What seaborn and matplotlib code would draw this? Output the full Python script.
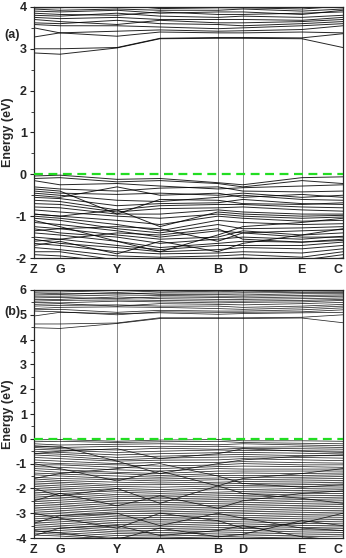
import numpy as np
import pandas as pd
import seaborn as sns
import matplotlib.pyplot as plt

# high-symmetry points along the path
kpoints = ['Z', 'G', 'Y', 'A', 'B', 'D', 'E', 'C']
kpos = [0.0, 0.084, 0.269, 0.408, 0.595, 0.676, 0.867, 1.0]

# panel (a): band energies (eV) at Z, G, Y, A, B, D, E, C
a_cond = [
    [2.90, 2.87, 3.02, 3.24, 3.25, 3.25, 3.24, 3.03],
    [3.00, 3.00, 3.03, 3.25, 3.27, 3.27, 3.26, 3.36],
    [3.28, 3.38, 3.30, 3.40, 3.38, 3.38, 3.40, 3.38],
    [3.50, 3.38, 3.42, 3.45, 3.42, 3.43, 3.46, 3.55],
    [3.58, 3.55, 3.55, 3.52, 3.48, 3.50, 3.55, 3.60],
    [3.62, 3.60, 3.68, 3.60, 3.58, 3.55, 3.60, 3.65],
    [3.70, 3.65, 3.58, 3.68, 3.62, 3.62, 3.65, 3.70],
    [3.75, 3.72, 3.75, 3.70, 3.70, 3.70, 3.68, 3.75],
    [3.80, 3.78, 3.85, 3.78, 3.75, 3.78, 3.75, 3.80],
    [3.85, 3.82, 3.80, 3.88, 3.82, 3.82, 3.85, 3.88],
    [3.90, 3.88, 3.92, 3.85, 3.88, 3.88, 3.82, 3.92],
    [3.95, 3.92, 3.95, 3.92, 3.92, 3.95, 3.90, 3.95],
    [3.98, 3.98, 4.05, 3.96, 3.98, 3.98, 3.95, 4.02],
]
a_val = [
    [-0.04, -0.02, -0.12, -0.10, -0.20, -0.25, -0.08, -0.06],
    [-0.10, -0.08, -0.18, -0.15, -0.22, -0.30, -0.15, -0.22],
    [-0.15, -0.25, -0.22, -0.28, -0.35, -0.32, -0.28, -0.25],
    [-0.30, -0.35, -0.40, -0.33, -0.30, -0.40, -0.42, -0.40],
    [-0.40, -0.45, -0.48, -0.45, -0.50, -0.45, -0.55, -0.50],
    [-0.45, -0.50, -0.62, -0.65, -0.55, -0.50, -0.60, -0.62],
    [-0.55, -0.58, -0.75, -0.70, -0.68, -0.60, -0.70, -0.72],
    [-0.62, -0.65, -0.85, -0.75, -0.72, -0.72, -0.78, -0.80],
    [-0.70, -0.72, -0.90, -0.82, -0.80, -0.78, -0.85, -0.88],
    [-0.78, -0.80, -0.95, -0.95, -0.85, -0.90, -0.95, -0.95],
    [-0.85, -0.90, -1.00, -1.05, -0.95, -1.00, -1.05, -1.02],
    [-0.95, -1.00, -1.10, -1.20, -1.00, -1.05, -1.12, -1.10],
    [-1.00, -1.05, -1.20, -1.35, -1.10, -1.15, -1.20, -1.18],
    [-1.05, -1.10, -1.30, -1.40, -1.20, -1.30, -1.28, -1.25],
    [-1.15, -1.20, -1.35, -1.50, -1.35, -1.40, -1.35, -1.32],
    [-1.25, -1.30, -1.45, -1.55, -1.50, -1.35, -1.45, -1.40],
    [-1.30, -1.40, -1.50, -1.65, -1.55, -1.50, -1.55, -1.48],
    [-1.40, -1.45, -1.60, -1.75, -1.65, -1.60, -1.62, -1.55],
    [-1.50, -1.55, -1.70, -1.80, -1.70, -1.70, -1.70, -1.62],
    [-1.55, -1.65, -1.75, -1.85, -1.80, -1.75, -1.78, -1.70],
    [-1.65, -1.70, -1.85, -1.90, -1.88, -1.85, -1.88, -1.78],
    [-1.75, -1.80, -1.95, -1.98, -1.95, -1.92, -1.98, -1.85],
    [-1.85, -1.85, -2.05, -2.05, -2.02, -2.00, -2.05, -1.92],
    [-1.92, -1.95, -2.10, -2.10, -2.10, -2.10, -2.10, -2.00],
    [-0.35, -0.40, -0.95, -0.60, -0.62, -0.70, -0.72, -0.68],
    [-0.50, -0.55, -0.30, -0.50, -0.45, -0.55, -0.48, -0.55],
    [-0.95, -1.00, -0.85, -1.25, -0.90, -0.95, -1.00, -0.98],
    [-1.35, -1.30, -1.25, -1.30, -1.60, -1.40, -1.50, -1.50],
    [-1.60, -1.55, -1.40, -1.45, -1.30, -1.55, -1.62, -1.58],
    [-1.10, -1.25, -1.60, -1.85, -1.45, -1.25, -1.15, -1.05],
    [-1.70, -1.60, -1.90, -1.60, -1.85, -1.65, -1.45, -1.30],
]

# panel (b)
b_cond = [
    [4.48, 4.45, 4.65, 4.85, 4.85, 4.85, 4.87, 4.68],
    [4.63, 4.63, 4.67, 4.88, 4.88, 4.88, 4.90, 5.00],
    [4.95, 5.10, 5.05, 5.08, 5.02, 5.05, 5.08, 5.10],
    [5.15, 5.12, 5.00, 5.12, 5.10, 5.10, 5.12, 5.20],
    [5.20, 5.22, 5.10, 5.18, 5.15, 5.15, 5.20, 5.28],
    [5.25, 5.30, 5.32, 5.30, 5.25, 5.22, 5.28, 5.35],
    [5.35, 5.38, 5.40, 5.35, 5.35, 5.30, 5.35, 5.42],
    [5.42, 5.45, 5.35, 5.45, 5.42, 5.40, 5.45, 5.50],
    [5.50, 5.48, 5.55, 5.52, 5.48, 5.50, 5.52, 5.58],
    [5.55, 5.58, 5.60, 5.58, 5.55, 5.55, 5.58, 5.62],
    [5.62, 5.62, 5.72, 5.65, 5.62, 5.62, 5.65, 5.68],
    [5.68, 5.70, 5.65, 5.72, 5.70, 5.68, 5.72, 5.75],
    [5.75, 5.75, 5.80, 5.78, 5.75, 5.75, 5.78, 5.80],
    [5.80, 5.82, 5.90, 5.82, 5.82, 5.80, 5.85, 5.85],
    [5.88, 5.85, 5.85, 5.88, 5.88, 5.88, 5.90, 5.90],
    [5.92, 5.92, 5.98, 5.92, 5.95, 5.92, 5.96, 5.95],
    [5.98, 5.98, 6.05, 5.98, 6.02, 6.00, 6.05, 6.02],
]
b_val = [
    [-0.04, -0.03, -0.10, -0.05, -0.03, -0.08, -0.08, -0.10],
    [-0.12, -0.10, -0.15, -0.12, -0.10, -0.15, -0.18, -0.20],
    [-0.20, -0.25, -0.22, -0.20, -0.24, -0.20, -0.25, -0.28],
    [-0.28, -0.35, -0.30, -0.32, -0.30, -0.34, -0.32, -0.35],
    [-0.35, -0.40, -0.45, -0.38, -0.42, -0.38, -0.40, -0.42],
    [-0.42, -0.46, -0.55, -0.50, -0.45, -0.47, -0.48, -0.50],
    [-0.50, -0.55, -0.65, -0.60, -0.56, -0.55, -0.58, -0.61],
    [-0.58, -0.62, -0.75, -0.70, -0.65, -0.63, -0.68, -0.68],
    [-0.65, -0.70, -0.85, -0.78, -0.74, -0.72, -0.75, -0.78],
    [-0.75, -0.80, -0.90, -0.86, -0.85, -0.80, -0.85, -0.88],
    [-0.85, -0.90, -1.00, -0.95, -0.95, -0.92, -0.96, -0.98],
    [-0.95, -1.00, -1.05, -1.10, -1.05, -1.00, -1.05, -1.05],
    [-1.05, -1.05, -1.15, -1.20, -1.12, -1.10, -1.12, -1.15],
    [-1.12, -1.15, -1.25, -1.30, -1.20, -1.22, -1.22, -1.22],
    [-1.20, -1.25, -1.35, -1.40, -1.30, -1.30, -1.30, -1.30],
    [-1.28, -1.35, -1.40, -1.48, -1.40, -1.38, -1.40, -1.38],
    [-1.38, -1.42, -1.50, -1.55, -1.48, -1.48, -1.48, -1.45],
    [-1.45, -1.50, -1.60, -1.62, -1.58, -1.55, -1.55, -1.52],
    [-1.55, -1.60, -1.65, -1.70, -1.65, -1.65, -1.62, -1.60],
    [-1.62, -1.68, -1.75, -1.78, -1.75, -1.72, -1.70, -1.68],
    [-1.70, -1.75, -1.85, -1.85, -1.82, -1.80, -1.78, -1.75],
    [-1.78, -1.82, -1.92, -1.95, -1.90, -1.88, -1.85, -1.82],
    [-1.85, -1.90, -2.00, -2.05, -1.98, -1.95, -1.92, -1.90],
    [-1.92, -1.98, -2.08, -2.12, -2.05, -2.05, -2.00, -1.98],
    [-2.00, -2.05, -2.15, -2.20, -2.15, -2.12, -2.08, -2.05],
    [-2.08, -2.12, -2.25, -2.28, -2.22, -2.20, -2.15, -2.12],
    [-2.15, -2.20, -2.32, -2.35, -2.30, -2.28, -2.22, -2.20],
    [-2.22, -2.28, -2.40, -2.42, -2.38, -2.35, -2.30, -2.28],
    [-2.30, -2.35, -2.48, -2.50, -2.45, -2.42, -2.38, -2.35],
    [-2.38, -2.42, -2.55, -2.58, -2.52, -2.50, -2.45, -2.42],
    [-2.45, -2.50, -2.62, -2.65, -2.60, -2.58, -2.52, -2.50],
    [-2.52, -2.58, -2.70, -2.72, -2.68, -2.65, -2.60, -2.58],
    [-2.60, -2.65, -2.78, -2.80, -2.75, -2.72, -2.68, -2.65],
    [-2.68, -2.72, -2.85, -2.88, -2.82, -2.80, -2.75, -2.72],
    [-2.75, -2.80, -2.92, -2.95, -2.90, -2.88, -2.82, -2.80],
    [-2.82, -2.88, -3.00, -3.02, -2.98, -2.95, -2.90, -2.88],
    [-2.90, -2.95, -3.08, -3.10, -3.05, -3.02, -2.98, -2.95],
    [-2.98, -3.02, -3.15, -3.18, -3.12, -3.10, -3.05, -3.02],
    [-3.05, -3.10, -3.22, -3.25, -3.20, -3.18, -3.12, -3.10],
    [-3.12, -3.18, -3.30, -3.32, -3.28, -3.25, -3.20, -3.18],
    [-3.20, -3.25, -3.38, -3.40, -3.35, -3.32, -3.28, -3.25],
    [-3.28, -3.32, -3.45, -3.48, -3.42, -3.40, -3.35, -3.32],
    [-3.35, -3.40, -3.52, -3.55, -3.50, -3.48, -3.42, -3.40],
    [-3.42, -3.48, -3.60, -3.62, -3.58, -3.55, -3.50, -3.48],
    [-3.50, -3.55, -3.68, -3.70, -3.65, -3.62, -3.58, -3.55],
    [-3.58, -3.62, -3.75, -3.78, -3.72, -3.70, -3.65, -3.62],
    [-3.65, -3.70, -3.82, -3.85, -3.80, -3.78, -3.72, -3.70],
    [-3.72, -3.78, -3.90, -3.92, -3.88, -3.85, -3.80, -3.78],
    [-3.80, -3.85, -3.98, -4.00, -3.95, -3.92, -3.88, -3.85],
    [-3.88, -3.92, -4.05, -4.08, -4.02, -4.00, -3.95, -3.92],
    [-0.30, -0.30, -0.90, -1.40, -1.00, -0.85, -0.70, -0.65],
    [-0.60, -0.50, -0.40, -0.80, -0.60, -0.40, -0.50, -0.55],
    [-1.00, -1.20, -1.70, -1.30, -1.90, -1.60, -1.40, -1.20],
    [-1.60, -1.40, -1.20, -1.00, -1.50, -1.80, -1.95, -1.85],
    [-2.00, -2.30, -2.00, -2.60, -1.90, -2.20, -2.40, -2.60],
    [-2.50, -2.20, -2.70, -2.30, -2.80, -2.50, -2.20, -2.10],
    [-3.00, -3.20, -3.60, -3.00, -3.30, -3.60, -3.40, -3.00],
    [-3.40, -3.10, -3.00, -3.50, -3.00, -3.20, -3.60, -3.70],
    [-3.70, -3.80, -4.05, -3.60, -3.95, -3.85, -3.30, -3.50],
    [-3.90, -3.60, -3.50, -3.90, -3.70, -3.50, -3.95, -4.10],
]


def to_frame(bands):
    rows = []
    for i, b in enumerate(bands):
        for k, e in zip(kpos, b):
            rows.append({'band': i, 'k': k, 'E': e})
    return pd.DataFrame(rows)


sns.set_style('ticks')
plt.rcParams['font.family'] = ['Liberation Sans', 'DejaVu Sans']
plt.rcParams['font.weight'] = 'bold'
plt.rcParams['axes.unicode_minus'] = False
fs = 9

fig = plt.figure(figsize=(3.46, 5.58), dpi=100)
ax_a = fig.add_axes([0.098, 0.5376, 0.893, 0.450])
ax_b = fig.add_axes([0.098, 0.0358, 0.893, 0.4445])

panels = [
    (ax_a, a_cond + a_val, (-2, 4), '(a)', 0.938, 0.7),
    (ax_b, b_cond + b_val, (-4, 6), '(b)', 0.441, 0.55),
]

for ax, bands, ylim, tag, ty, lw in panels:
    df = to_frame(bands)
    sns.lineplot(data=df, x='k', y='E', units='band', estimator=None,
                 color='black', lw=lw, alpha=0.85, ax=ax, legend=False)
    for x in kpos[1:-1]:
        ax.axvline(x, color='#777777', lw=0.6, zorder=0)
    ax.axhline(0, color='#22dd22', lw=1.6, dashes=(4, 2.5), zorder=5)
    ax.set_xlim(0, 1)
    ax.set_ylim(*ylim)
    ax.set_xticks(kpos)
    ax.set_xticklabels(kpoints, fontsize=fs, fontweight='bold')
    ax.get_xticklabels()[-1].set_horizontalalignment('right')
    ax.tick_params(axis='x', length=0, pad=4)
    ax.set_yticks(range(ylim[0], ylim[1] + 1))
    ax.set_yticks(np.arange(ylim[0], ylim[1], 0.5), minor=True)
    ax.tick_params(axis='y', which='major', length=3, width=0.8, labelsize=fs, pad=2)
    ax.tick_params(axis='y', which='minor', length=2, width=0.6)
    ax.set_xlabel('')
    ax.set_ylabel('Energy (eV)', fontsize=fs, fontweight='bold')
    ax.yaxis.set_label_coords(-0.063, 0.5)
    for s in ax.spines.values():
        s.set_linewidth(0.9)
    fig.text(0.012, ty, tag, fontsize=fs, fontweight='bold', va='center')

fig.savefig('out.png', dpi=100)
